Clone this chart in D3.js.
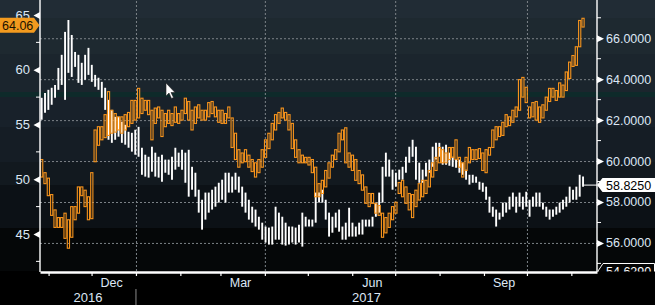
<!DOCTYPE html>
<html>
<head>
<meta charset="utf-8">
<script src="https://cdn.jsdelivr.net/npm/d3@7"></script>
<style>
html, body { margin: 0; padding: 0; background: #000; }
svg { display: block; font-family: "Liberation Sans", Arial, sans-serif; }
</style>
</head>
<body>
<div id="chart" style="width:655px;height:305px"></div>
<script>
// orange series (left axis), low / high per bar
const orangeLo = [50.2,49.6,48.5,46.7,45.6,45.6,45.6,44.6,43.7,44.7,
  46.3,46.9,48.5,47.5,46.3,46.4,51.6,53.1,53.6,53.8,
  54.0,54.2,54.3,54.5,54.2,54.5,54.8,55.1,55.4,55.6,
  56.0,56.3,55.9,53.6,55.1,55.6,53.9,54.8,55.1,54.9,
  55.2,55.1,55.4,56.0,55.4,54.5,55.1,55.6,55.4,55.4,
  55.7,56.0,55.7,55.2,55.1,55.1,55.6,52.9,51.8,51.1,
  51.5,51.6,51.1,50.7,50.2,50.6,51.1,52.0,52.8,53.6,
  54.5,55.1,55.6,55.4,54.5,52.8,52.0,51.5,51.5,51.5,
  51.3,50.6,48.4,48.4,48.7,49.3,50.1,51.1,51.8,52.5,
  53.6,51.5,51.1,50.8,49.9,49.6,49.0,47.8,47.5,47.8,
  46.9,46.7,44.7,45.1,45.6,46.3,46.9,48.7,48.4,47.8,
  47.2,46.5,47.5,48.1,48.4,48.7,49.3,50.2,50.8,51.5,
  51.5,51.5,51.8,52.0,51.8,51.1,50.2,50.8,51.5,51.8,
  51.8,51.9,50.8,50.6,52.2,52.9,53.6,53.9,54.0,54.8,
  54.9,55.2,55.7,56.3,57.5,57.0,55.6,55.7,55.4,55.2,
  55.6,56.3,57.1,57.5,57.2,57.5,57.5,58.1,59.2,60.3,
  60.4,62.1,63.9];
const orangeHi = [51.8,50.6,50.1,48.6,47.2,46.5,46.5,46.9,46.3,47.5,
  47.5,49.3,49.3,49.0,48.4,50.6,54.5,54.8,54.8,55.9,
  58.0,56.3,56.0,55.7,55.7,55.9,56.1,57.2,57.2,58.3,
  57.4,57.2,57.2,56.3,56.5,56.6,56.3,56.0,56.3,56.0,
  56.6,56.0,56.3,57.4,57.1,56.3,56.6,56.8,56.3,56.3,
  57.0,57.1,56.6,56.3,56.3,56.0,56.6,55.6,54.2,52.7,
  52.4,52.7,52.2,51.8,51.5,51.8,52.7,53.6,54.2,55.1,
  55.9,56.1,56.5,56.1,55.9,55.1,53.6,52.7,52.2,52.0,
  52.0,51.8,51.1,49.6,49.9,50.8,51.5,52.2,52.7,54.2,
  54.5,54.7,52.4,52.2,51.8,50.8,50.4,49.3,48.7,48.7,
  47.8,47.6,46.9,46.5,46.9,47.5,47.9,49.7,49.9,49.3,
  48.7,48.6,49.0,49.6,49.9,49.9,50.8,51.5,52.0,52.9,
  52.7,52.4,52.9,52.9,53.6,52.0,51.5,52.0,52.9,52.7,
  52.7,52.8,52.4,52.7,52.9,54.5,54.8,54.8,55.2,55.9,
  55.7,56.3,56.6,59.1,59.3,58.4,56.6,57.0,57.1,56.6,
  56.8,57.5,58.3,58.3,58.1,58.8,58.6,59.8,60.7,61.3,
  62.1,64.5,64.7];

// white series (right axis), low / high per bar
const whiteLo = [62.02,62.36,62.50,62.75,63.09,63.48,63.72,62.99,64.31,64.11,
  64.60,63.82,63.72,63.97,64.21,63.87,63.63,63.48,63.09,62.50,
  61.04,60.89,61.04,61.19,60.89,60.80,60.65,60.46,60.31,60.21,
  59.33,59.24,59.19,59.48,59.24,59.19,58.99,59.43,59.33,59.09,
  59.58,59.72,59.58,58.94,58.26,58.60,58.26,57.48,56.65,57.14,
  57.48,57.63,57.77,57.97,58.11,57.97,58.46,58.46,58.60,58.46,
  57.77,57.48,57.14,56.99,56.80,56.65,56.16,56.02,55.92,55.92,
  56.16,56.16,55.92,55.87,55.92,56.02,55.92,56.02,55.82,56.80,
  56.80,56.80,56.99,57.97,57.97,57.14,56.31,56.50,56.75,56.55,
  56.16,56.16,56.31,56.31,56.31,56.41,56.41,56.80,56.80,56.80,
  57.28,57.48,57.97,59.24,59.24,58.60,58.75,59.09,59.09,59.43,
  59.92,60.21,59.09,58.94,58.94,59.24,59.43,59.72,60.07,60.21,
  59.82,59.82,59.77,59.72,59.67,59.43,59.33,59.09,58.85,58.94,
  58.94,58.60,58.50,58.11,57.48,57.28,56.80,57.14,57.28,57.48,
  57.63,57.77,57.48,57.77,57.63,57.77,57.28,57.77,57.77,57.77,
  57.63,57.28,57.14,57.28,57.38,57.48,57.63,57.77,57.97,58.11,
  58.11,58.26,58.75];
const whiteHi = [63.09,63.33,63.48,63.58,63.72,64.55,65.19,66.31,66.89,66.16,
  65.33,65.19,64.80,65.19,65.53,64.70,64.21,64.07,63.87,63.58,
  62.99,62.50,62.16,62.16,61.92,61.77,61.43,61.38,61.53,61.67,
  60.65,60.31,60.21,60.70,60.41,60.21,60.31,60.07,60.07,60.21,
  60.65,60.41,60.55,60.41,60.55,59.72,59.43,58.60,58.11,58.46,
  58.46,58.60,58.75,58.94,59.09,59.43,59.43,59.24,59.43,59.24,
  58.75,58.46,58.11,57.77,57.63,57.28,56.99,56.80,56.75,56.80,
  57.77,57.48,57.28,56.99,56.80,56.80,56.75,56.89,57.48,57.28,
  57.14,57.14,58.46,58.46,58.60,58.11,57.48,57.28,57.48,57.63,
  56.80,56.99,57.72,56.99,56.80,56.99,57.14,57.14,57.14,57.28,
  57.97,58.46,59.72,60.41,60.07,59.58,59.43,59.58,59.72,60.21,
  60.70,61.04,60.70,59.92,59.58,59.92,60.07,60.70,60.89,60.89,
  60.70,60.80,60.41,60.21,60.07,60.07,59.92,59.58,59.33,59.33,
  59.24,58.99,58.94,58.75,58.26,57.77,57.63,57.48,57.97,57.97,
  58.26,58.46,58.26,58.46,58.26,58.50,58.11,58.26,58.46,58.46,
  57.97,57.77,57.63,57.63,57.77,57.97,58.11,58.26,58.75,58.60,
  58.75,59.33,59.24];

const orangeLast = 64.06;
const whiteLast = 58.825;
const whiteMin = 54.629;

const leftTicks = [45, 50, 55, 60, 65];
const leftMinor = [42.5, 47.5, 52.5, 57.5, 62.5];
const rightTicks = [56, 58, 60, 62, 64, 66];
const rightMinor = [55, 57, 59, 61, 63, 65, 67];
const monthNames = ["Dec", "Mar", "Jun", "Sep"];
const monthMid = ["2016-12-15", "2017-03-15", "2017-06-15", "2017-09-15"];
const quarterStarts = ["2017-01-01", "2017-04-01", "2017-07-01", "2017-10-01"];
const yearNames = ["2016", "2017"];

const W = 655, H = 305;
const margin = { top: 0, right: 58, bottom: 34, left: 40 };
const plotR = W - margin.right;   // 597
const plotB = H - margin.bottom;  // 271
const parse = d3.timeParse("%Y-%m-%d");

const svg = d3.select("#chart").append("svg")
    .attr("width", W)
    .attr("height", H);

// banded background
const bands = [[0, 18, "#212c35"], [18, 54, "#1e2930"], [54, 92, "#1b252d"], [92, 97, "#0e2a2a"],
    [97, 127, "#18212a"], [127, 162, "#151d25"], [162, 185, "#12191f"], [185, 228, "#0c1116"],
    [228, plotB, "#050708"], [plotB, H, "#000"]];
svg.selectAll("rect.band")
    .data(bands)
    .join("rect")
    .attr("class", "band")
    .attr("x", 0).attr("width", W)
    .attr("y", d => d[0]).attr("height", d => d[1] - d[0])
    .attr("fill", d => d[2]);

const x = d3.scaleTime()
    .domain([new Date(2016, 9, 26), new Date(2017, 10, 18, 22)])
    .range([margin.left, plotR]);
const yL = d3.scaleLinear().domain([41.62, 66.37]).range([plotB, 0]);
const yR = d3.scaleLinear().domain([whiteMin, 67.868]).range([plotB, 0]);

// bar dates, one bar every 56 hours
const barStart = new Date(2016, 9, 27, 4);
const dates = d3.range(whiteLo.length).map(i => d3.timeHour.offset(barStart, i * 56));

// grids
const gridStyle = g => {
    g.select(".domain").remove();
    g.selectAll("line").attr("stroke", "#7d8388").attr("stroke-width", 1).attr("stroke-dasharray", "2,2");
};
svg.append("g")
    .attr("transform", `translate(${margin.left},0)`)
    .call(d3.axisRight(yR).tickValues(rightTicks).tickSize(plotR - margin.left).tickFormat(""))
    .call(gridStyle);
svg.append("g")
    .attr("transform", `translate(0,${plotB})`)
    .call(d3.axisBottom(x).tickValues(quarterStarts.map(parse)).tickSize(-plotB).tickFormat(""))
    .call(gridStyle);

// series
svg.append("clipPath").attr("id", "plot")
    .append("rect").attr("x", margin.left).attr("y", 0)
    .attr("width", plotR - margin.left).attr("height", plotB);
const series = svg.append("g").attr("clip-path", "url(#plot)");

series.append("g").selectAll("line")
    .data(dates)
    .join("line")
    .attr("x1", d => x(d)).attr("x2", d => x(d))
    .attr("y1", (d, i) => yR(whiteHi[i]))
    .attr("y2", (d, i) => Math.max(yR(whiteLo[i]), yR(whiteHi[i]) + 1))
    .attr("stroke", "#fff")
    .attr("stroke-width", 1.9);

series.append("g").selectAll("rect")
    .data(dates)
    .join("rect")
    .attr("x", d => x(d) - 1.1)
    .attr("width", 2.2)
    .attr("y", (d, i) => yL(orangeHi[i]))
    .attr("height", (d, i) => Math.max(1, yL(orangeLo[i]) - yL(orangeHi[i])))
    .attr("fill", "none")
    .attr("stroke", "#f7941d")
    .attr("stroke-width", 1.1);

// last value line for the white series
series.append("line")
    .attr("x1", x(dates[dates.length - 1]) + 1).attr("x2", plotR)
    .attr("y1", yR(whiteLast)).attr("y2", yR(whiteLast))
    .attr("stroke", "#fff").attr("stroke-width", 1);

// axes lines
svg.append("line").attr("x1", margin.left).attr("x2", margin.left).attr("y1", 0).attr("y2", plotB + 1)
    .attr("stroke", "#fff").attr("stroke-width", 1.4);
svg.append("line").attr("x1", plotR).attr("x2", plotR).attr("y1", 0).attr("y2", plotB + 1)
    .attr("stroke", "#fff").attr("stroke-width", 1.4);

const labelFill = "#dde7f5";

// left axis
const left = svg.append("g")
    .attr("transform", `translate(${margin.left},0)`)
    .call(d3.axisLeft(yL).tickValues(leftTicks).tickSize(0).tickPadding(10));
left.select(".domain").remove();
left.selectAll("text").attr("fill", labelFill).style("font-size", "13px").attr("font-family", null);
left.selectAll(".tick").append("path").attr("d", "M0,-3.5L-6.5,0L0,3.5Z").attr("fill", "#fff");
svg.append("g").selectAll("line")
    .data(leftMinor)
    .join("line")
    .attr("x1", margin.left - 4).attr("x2", margin.left)
    .attr("y1", d => yL(d)).attr("y2", d => yL(d))
    .attr("stroke", "#fff");

// right axis
const right = svg.append("g")
    .attr("transform", `translate(${plotR},0)`)
    .call(d3.axisRight(yR).tickValues(rightTicks).tickSize(0).tickPadding(9).tickFormat(d3.format(".4f")));
right.select(".domain").remove();
right.selectAll("text").attr("fill", labelFill).style("font-size", "12.5px").attr("font-family", null);
right.selectAll(".tick").append("path").attr("d", "M0,-3.5L7,0L0,3.5Z").attr("fill", "#fff");
svg.append("g").selectAll("line")
    .data(rightMinor)
    .join("line")
    .attr("x1", plotR).attr("x2", plotR + 4)
    .attr("y1", d => yR(d)).attr("y2", d => yR(d))
    .attr("stroke", "#fff");

// bottom axis
const bottom = svg.append("g")
    .attr("transform", `translate(0,${plotB + 1})`)
    .call(d3.axisBottom(x).ticks(d3.timeMonth.every(1)).tickSize(4).tickSizeOuter(0).tickFormat(""));
bottom.select(".domain").attr("stroke", "#fff").attr("stroke-width", 2.5);
bottom.selectAll("line").attr("stroke", "#fff").attr("stroke-width", 1.2);

svg.append("g").selectAll("text")
    .data(monthNames)
    .join("text")
    .attr("x", (d, i) => x(parse(monthMid[i])))
    .attr("y", 287)
    .attr("text-anchor", "middle")
    .attr("fill", labelFill)
    .style("font-size", "12.5px")
    .text(d => d);

const jan = x(parse(quarterStarts[0]));
const yearCenters = [(margin.left + jan) / 2, (jan + plotR) / 2];
svg.append("g").selectAll("text")
    .data(yearNames)
    .join("text")
    .attr("x", (d, i) => yearCenters[i])
    .attr("y", 302)
    .attr("text-anchor", "middle")
    .attr("fill", labelFill)
    .style("font-size", "13px")
    .text(d => d);
svg.append("line").attr("x1", jan).attr("x2", jan).attr("y1", 289).attr("y2", H)
    .attr("stroke", "#8a8a8a").attr("stroke-width", 1);

// last value badges
const yo = yL(orangeLast);
svg.append("path")
    .attr("d", `M0,${yo - 7.5}L34,${yo - 7.5}L39.5,${yo}L34,${yo + 7.5}L0,${yo + 7.5}Z`)
    .attr("fill", "#f39a1e");
svg.append("text").attr("x", 2).attr("y", yo + 4.5)
    .attr("fill", "#1c1200").style("font-size", "12.5px")
    .text(orangeLast.toFixed(2));

const yw = yR(whiteLast);
svg.append("path")
    .attr("d", `M${plotR},${yw}L${plotR + 5.5},${yw - 7}L${W},${yw - 7}L${W},${yw + 7}L${plotR + 5.5},${yw + 7}Z`)
    .attr("fill", "#fff");
svg.append("text").attr("x", plotR + 9).attr("y", yw + 4.5)
    .attr("fill", "#000").style("font-size", "12.5px")
    .text(whiteLast.toFixed(4));

svg.append("clipPath").attr("id", "minclip")
    .append("rect").attr("x", plotR).attr("y", 0).attr("width", W - plotR).attr("height", plotB + 0.5);
const ym = yR(whiteMin);
const minG = svg.append("g").attr("clip-path", "url(#minclip)");
minG.append("path")
    .attr("d", `M${plotR + 1},${ym}L${plotR + 6},${ym - 7.5}L${W - 0.5},${ym - 7.5}L${W - 0.5},${ym + 7.5}L${plotR + 6},${ym + 7.5}Z`)
    .attr("fill", "#050505").attr("stroke", "#fff").attr("stroke-width", 1);
minG.append("text").attr("x", plotR + 9).attr("y", ym + 4.5)
    .attr("fill", "#fff").style("font-size", "12.5px")
    .text(whiteMin.toFixed(4));

// mouse pointer seen in the screenshot
svg.append("path")
    .attr("transform", "translate(166,83)")
    .attr("d", "M0,0L0,13L3,10L5.5,15.5L7.5,14.5L5,9.5L9,9.5Z")
    .attr("fill", "#fff").attr("stroke", "#222").attr("stroke-width", 0.6);
</script>
</body>
</html>
